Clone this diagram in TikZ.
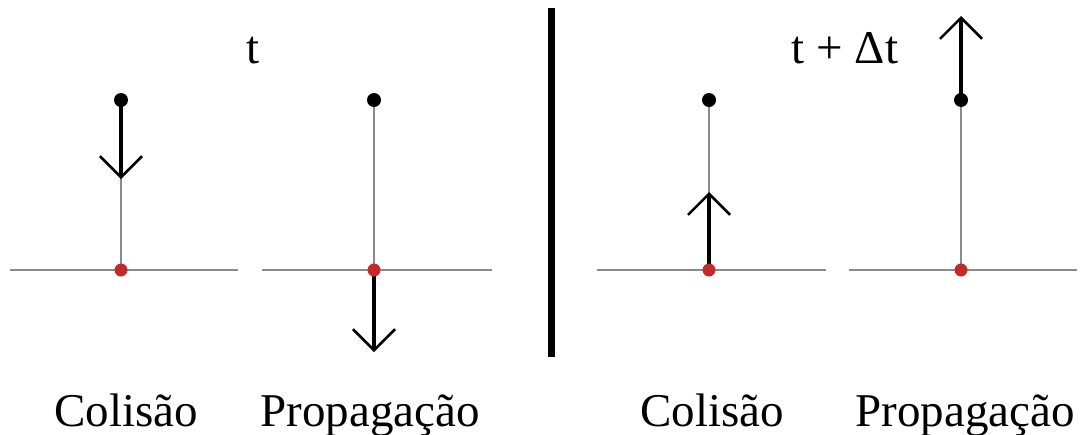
\documentclass[tikz,border=0pt]{standalone}
\usepackage{fontspec}
\setmainfont{Liberation Serif}
\newfontfamily\lblfont{Liberation Serif}
\usetikzlibrary{arrows.meta}
\definecolor{rod-gray}{HTML}{8A8A8A}
\definecolor{node-red}{HTML}{C42A2A}
\tikzset{
  ground/.style={draw=rod-gray, line width=2.4pt},
  rod/.style={draw=rod-gray, line width=1.8pt},
  reddot/.style={circle, fill=node-red, inner sep=0pt, minimum size=13pt},
  blackdot/.style={circle, fill=black, inner sep=0pt, minimum size=14pt},
  vel/.style={line width=4pt,
    -{Straight Barb[length=21pt,width=42pt,line width=2.6pt]}},
  lbl/.style={font=\lblfont\fontsize{47}{52}\selectfont, anchor=base, inner sep=0pt},
}
\begin{document}
\begin{tikzpicture}[x=1pt, y=-1pt]
  \useasboundingbox (0,0) rectangle (1087,434);

  % points of the four lattices
  \coordinate (top1) at (121,100);
  \coordinate (bot1) at (121,270);
  \coordinate (top2) at (374,100);
  \coordinate (bot2) at (374,270);
  \coordinate (top3) at (709,100);
  \coordinate (bot3) at (709,270);
  \coordinate (top4) at (961,100);
  \coordinate (bot4) at (961,270);

  % ground lines
  \coordinate (g1l) at (10,270);  \coordinate (g1r) at (238,270);
  \coordinate (g2l) at (262,270); \coordinate (g2r) at (492,270);
  \coordinate (g3l) at (597,270); \coordinate (g3r) at (826,270);
  \coordinate (g4l) at (849,270); \coordinate (g4r) at (1077,270);
  \draw[ground] (g1l) -- (g1r);
  \draw[ground] (g2l) -- (g2r);
  \draw[ground] (g3l) -- (g3r);
  \draw[ground] (g4l) -- (g4r);

  \draw[rod] (bot1) -- (top1);
  \draw[rod] (bot2) -- (top2);
  \draw[rod] (bot3) -- (top3);
  \draw[rod] (bot4) -- (top4);

  % velocity arrows
  \coordinate (v1) at (121,179);
  \coordinate (v2) at (374,352);
  \coordinate (v3) at (709,192);
  \coordinate (v4) at (961,16);
  \draw[vel] (top1) -- (v1);
  \draw[vel] (bot2) -- (v2);
  \draw[vel] (bot3) -- (v3);
  \draw[vel] (top4) -- (v4);

  \node[blackdot] (b1) at (top1) {};
  \node[blackdot] (b2) at (top2) {};
  \node[blackdot] (b3) at (top3) {};
  \node[blackdot] (b4) at (top4) {};
  \node[reddot] (r1) at (bot1) {};
  \node[reddot] (r2) at (bot2) {};
  \node[reddot] (r3) at (bot3) {};
  \node[reddot] (r4) at (bot4) {};

  % separator
  \coordinate (sepT) at (551,8);
  \coordinate (sepB) at (551,357);
  \draw[line width=7pt] (sepT) -- (sepB);

  \node[lbl] (tnow)  at (253,63) {t};
  \node[lbl] (tnext) at (845,63) {t + Δt};
  \node[lbl] (col1)  at (126,426) {Colisão};
  \node[lbl] (prop1) at (370,426) {Propagação};
  \node[lbl] (col2)  at (712,426) {Colisão};
  \node[lbl] (prop2) at (965,426) {Propagação};
\end{tikzpicture}
\end{document}
